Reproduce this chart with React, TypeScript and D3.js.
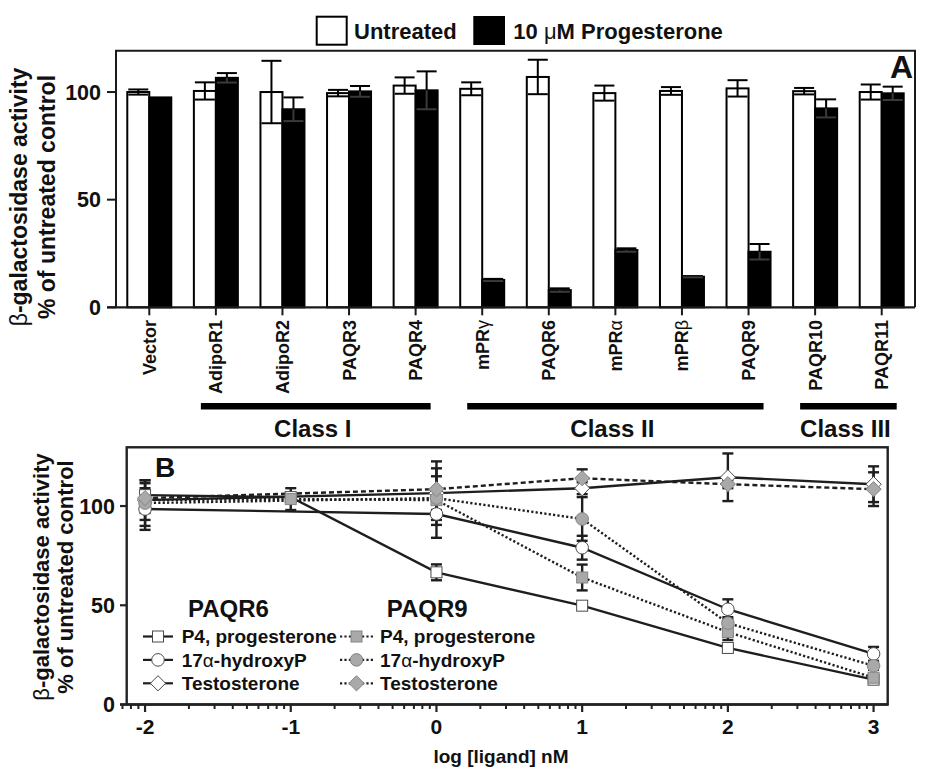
import React from "react";
import * as d3 from "d3";

// ---------- Panel A data ----------
const categories = ["Vector", "AdipoR1", "AdipoR2", "PAQR3", "PAQR4", "mPRγ", "PAQR6", "mPRα", "mPRβ", "PAQR9", "PAQR10", "PAQR11"];
const untreated = [100, 100.5, 100, 99.5, 103, 101.5, 107, 99.5, 100.5, 101.7, 100.4, 100];
const untreatedErr = [1.2, 4, 14.5, 1.5, 3.8, 3, 8, 3.5, 1.8, 3.8, 1.5, 3.5];
const progesterone = [97.5, 106.6, 92, 100.3, 100.8, 12.7, 8, 26.6, 14.2, 25.8, 92.4, 99.4];
const progesteroneErr = [0, 2.2, 5.5, 2.5, 8.8, 0.5, 0.8, 0.8, 0.3, 3.6, 4.2, 3.1];
const yTicksA = [0, 50, 100];
const classNames = ["Class I", "Class II", "Class III"];
const classFrom = ["AdipoR1", "mPRγ", "PAQR10"];
const classTo = ["PAQR4", "PAQR9", "PAQR11"];

// ---------- Panel B data ----------
const logDose = [-2, -1, 0, 1, 2, 3];
const xTicksB = [-2, -1, 0, 1, 2, 3];
const yTicksB = [0, 50, 100];
const p6_P4 = [105.5, 104.5, 66.6, 49.8, 28.5, 12.5];
const p6_P4Err = [0, 0, 4, 1, 1, 1];
const p6_OHP = [98.5, null, 96, 79, 48, 25.5];
const p6_OHPErr = [10.5, null, 12, 6, 5, 3.5];
const p6_T = [103, null, 106.5, 109, 114.5, 111];
const p6_TErr = [10, null, 16, 3, 12, 9];
const p9_P4 = [103, 103.5, 103, 64, 36.5, 13.5];
const p9_P4Err = [0, 5.5, 0, 6.5, 4, 1];
const p9_OHP = [101.5, null, 104, 93.5, 41, 19.5];
const p9_OHPErr = [11.5, null, 11, 11, 3, 2];
const p9_T = [104, null, 108.5, 114, 111, 108.5];
const p9_TErr = [7.5, null, 10.5, 4.5, 2, 8.5];

type Series = {
  vals: (number | null)[];
  errs: (number | null)[];
  shape: "square" | "circle" | "diamond";
  grey: boolean;
  dash: string | null;
};

const seriesB: Series[] = [
  { vals: p6_P4, errs: p6_P4Err, shape: "square", grey: false, dash: null },
  { vals: p6_OHP, errs: p6_OHPErr, shape: "circle", grey: false, dash: null },
  { vals: p6_T, errs: p6_TErr, shape: "diamond", grey: false, dash: null },
  { vals: p9_P4, errs: p9_P4Err, shape: "square", grey: true, dash: "2.2,2.2" },
  { vals: p9_OHP, errs: p9_OHPErr, shape: "circle", grey: true, dash: "2.2,2.2" },
  { vals: p9_T, errs: p9_TErr, shape: "diamond", grey: true, dash: "5,3" },
];

const legendLabels6 = ["P4, progesterone", "17α-hydroxyP", "Testosterone"];

const FONT = "'Liberation Sans', Arial, Helvetica, sans-serif";

function Marker({ shape, grey, x, y }: { shape: string; grey: boolean; x: number; y: number }) {
  const fill = grey ? "#a9a9a9" : "#ffffff";
  const stroke = grey ? "#858585" : "#4a4a4a";
  if (shape === "square") {
    return <rect x={x - 5.5} y={y - 5.5} width={11} height={11} fill={fill} stroke={stroke} strokeWidth={1} />;
  }
  if (shape === "circle") {
    return <circle cx={x} cy={y} r={6.3} fill={fill} stroke={stroke} strokeWidth={1} />;
  }
  const s = 7.6;
  return <path d={`M${x},${y - s}L${x + s},${y}L${x},${y + s}L${x - s},${y}Z`} fill={fill} stroke={stroke} strokeWidth={1} />;
}

function greekLabel(label: string) {
  const m = label.match(/^(.*?)([α-ωΑ-Ω])(.*)$/);
  if (!m) return label;
  return (
    <>
      {m[1]}
      <tspan fontWeight="normal">{m[2]}</tspan>
      {m[3]}
    </>
  );
}

export default function App() {
  const W = 940, H = 772;

  // Panel A
  const ax0 = 116, ax1 = 915, ay0 = 50.7, ay1 = 307.3;
  const xA = d3.scaleBand<string>().domain(categories).range([ax0, ax1]).paddingInner(0).paddingOuter(0);
  const yA = d3.scaleLinear().domain([0, 119.2]).range([ay1, ay0]);
  const bw = 22;
  const cA = (c: string) => (xA(c) as number) + xA.bandwidth() / 2;

  // Panel B
  const bx0 = 126.7, bx1 = 887.7, by0 = 447.3, by1 = 704.5;
  const xB = d3.scaleLinear().domain([-2.126, 3.097]).range([bx0, bx1]);
  const yB = d3.scaleLinear().domain([0, 129.6]).range([by1, by0]);
  const axisLeftB = 120;

  const minorB: number[] = [];
  for (let d = -3; d <= 3; d++) {
    for (let k = 2; k <= 9; k++) {
      const v = d + Math.log10(k);
      const px = xB(v);
      if (px >= axisLeftB && px <= bx1) minorB.push(v);
    }
  }

  const lineGen = d3
    .line<[number, number]>()
    .x((d) => xB(d[0]))
    .y((d) => yB(d[1]));

  const errBarA = (cx: number, v: number, e: number, dark: boolean, key: string) => {
    if (!e) return null;
    const yt = yA(v + e), yb = yA(v - e), yv = yA(v);
    const inner = dark ? "#3a3a3a" : "#000";
    return (
      <g key={key}>
        <line x1={cx} x2={cx} y1={yt} y2={yv} stroke="#000" strokeWidth={2} />
        <line x1={cx - 10} x2={cx + 10} y1={yt} y2={yt} stroke="#000" strokeWidth={2} />
        <line x1={cx} x2={cx} y1={yv} y2={yb} stroke={inner} strokeWidth={2} />
        <line x1={cx - 10} x2={cx + 10} y1={yb} y2={yb} stroke={inner} strokeWidth={2} />
      </g>
    );
  };

  return (
    <svg width={W} height={H} style={{ position: "absolute", left: 0, top: 0, display: "block" }} fontFamily={FONT}>
      <rect x={0} y={0} width={W} height={H} fill="#fff" />

      {/* ---------- Top legend ---------- */}
      <rect x={316.7} y={16.7} width={30} height={28} fill="#fff" stroke="#000" strokeWidth={2} />
      <text x={354} y={39.3} fontSize={22} fontWeight="bold" fill="#111">Untreated</text>
      <rect x={473.3} y={16} width={31.7} height={29} fill="#000" />
      <text x={513.3} y={39.3} fontSize={22} fontWeight="bold" fill="#111">
        10 <tspan fontWeight="normal">μ</tspan>M Progesterone
      </text>

      {/* ---------- Panel A ---------- */}
      {categories.map((c, i) => {
        const cx = cA(c);
        return (
          <g key={c}>
            <rect x={cx - bw} y={yA(untreated[i])} width={bw} height={ay1 - yA(untreated[i])} fill="#fff" stroke="#000" strokeWidth={2} />
            <rect x={cx} y={yA(progesterone[i])} width={bw} height={ay1 - yA(progesterone[i])} fill="#000" stroke="#000" strokeWidth={2} />
            {errBarA(cx - bw / 2, untreated[i], untreatedErr[i], false, "u" + i)}
            {errBarA(cx + bw / 2, progesterone[i], progesteroneErr[i], true, "p" + i)}
          </g>
        );
      })}
      {/* frame */}
      <path d={`M${ax0},${ay1}V${ay0}H${ax1}V${ay1}`} fill="none" stroke="#1a1a1a" strokeWidth={2} />
      <line x1={107} x2={ax1} y1={ay1} y2={ay1} stroke="#1a1a1a" strokeWidth={2.2} />
      {yTicksA.map((t) => (
        <g key={t}>
          <line x1={107} x2={ax0} y1={yA(t)} y2={yA(t)} stroke="#1a1a1a" strokeWidth={2} />
          <text x={101} y={yA(t)} dy="0.36em" textAnchor="end" fontSize={21.5} fontWeight="bold" fill="#111">{t}</text>
        </g>
      ))}
      {categories.map((c) => {
        const cx = cA(c);
        return (
          <g key={"xl" + c}>
            <line x1={cx} x2={cx} y1={ay1} y2={ay1 + 8} stroke="#1a1a1a" strokeWidth={2} />
            <text transform={`translate(${cx + 6.5},320) rotate(-90)`} textAnchor="end" fontSize={18} fontWeight="bold" fill="#111">
              {greekLabel(c)}
            </text>
          </g>
        );
      })}
      <text x={913} y={78} textAnchor="end" fontSize={32} fontWeight="bold" fill="#111">A</text>
      <text transform="translate(27,197) rotate(-90)" textAnchor="middle" fontSize={23} fontWeight="bold" fill="#111">
        <tspan fontWeight="normal">β</tspan>-galactosidase activity
      </text>
      <text transform="translate(55,197) rotate(-90)" textAnchor="middle" fontSize={23} fontWeight="bold" fill="#111">
        % of untreated control
      </text>

      {/* class bars */}
      {classNames.map((n, i) => {
        const x1 = cA(classFrom[i]) - 15;
        const x2 = cA(classTo[i]) + 15;
        return (
          <g key={n}>
            <rect x={x1} y={403} width={x2 - x1} height={6.5} fill="#000" />
            <text x={(x1 + x2) / 2 - 3} y={437} textAnchor="middle" fontSize={24} fontWeight="bold" fill="#111">{n}</text>
          </g>
        );
      })}

      {/* ---------- Panel B ---------- */}
      <rect x={bx0} y={by0} width={bx1 - bx0} height={by1 - by0} fill="none" stroke="#222" strokeWidth={2.4} />
      <line x1={axisLeftB} x2={bx1} y1={by1} y2={by1} stroke="#222" strokeWidth={2.4} />
      {yTicksB.map((t) => (
        <g key={"yb" + t}>
          <line x1={axisLeftB} x2={bx0} y1={yB(t)} y2={yB(t)} stroke="#222" strokeWidth={2.2} />
          <text x={115} y={yB(t)} dy="0.36em" textAnchor="end" fontSize={21.5} fontWeight="bold" fill="#111">{t}</text>
        </g>
      ))}
      {minorB.map((v, i) => (
        <line key={"mn" + i} x1={xB(v)} x2={xB(v)} y1={by1} y2={by1 + 4.5} stroke="#222" strokeWidth={2} />
      ))}
      {xTicksB.map((t) => (
        <g key={"xb" + t}>
          <line x1={xB(t)} x2={xB(t)} y1={by1} y2={by1 + 7.5} stroke="#222" strokeWidth={2.2} />
          <text x={xB(t)} y={733.5} textAnchor="middle" fontSize={21} fontWeight="bold" fill="#111">{t}</text>
        </g>
      ))}
      <text x={501} y={763} textAnchor="middle" fontSize={19} fontWeight="bold" fill="#111">log [ligand] nM</text>
      <text transform="translate(49,577) rotate(-90)" textAnchor="middle" fontSize={22} fontWeight="bold" fill="#111">
        <tspan fontWeight="normal">β</tspan>-galactosidase activity
      </text>
      <text transform="translate(73,577) rotate(-90)" textAnchor="middle" fontSize={22} fontWeight="bold" fill="#111">
        % of untreated control
      </text>
      <text x={155} y={477} fontSize={28} fontWeight="bold" fill="#111">B</text>

      {/* lines */}
      {seriesB.map((s, si) => {
        const pts: [number, number][] = [];
        s.vals.forEach((v, i) => {
          if (v !== null) pts.push([logDose[i], v]);
        });
        return (
          <path key={"ln" + si} d={lineGen(pts) || ""} fill="none" stroke="#1e1e1e" strokeWidth={2.4} strokeDasharray={s.dash || undefined} />
        );
      })}
      {/* error bars */}
      {seriesB.map((s, si) =>
        s.vals.map((v, i) => {
          const e = s.errs[i];
          if (v === null || !e) return null;
          const x = xB(logDose[i]);
          const yt = yB(v + e), yb = yB(v - e);
          return (
            <g key={"eb" + si + "-" + i}>
              <line x1={x} x2={x} y1={yt} y2={yb} stroke="#1e1e1e" strokeWidth={2.4} />
              <line x1={x - 5.5} x2={x + 5.5} y1={yt} y2={yt} stroke="#1e1e1e" strokeWidth={2.4} />
              <line x1={x - 5.5} x2={x + 5.5} y1={yb} y2={yb} stroke="#1e1e1e" strokeWidth={2.4} />
            </g>
          );
        })
      )}
      {/* markers */}
      {seriesB.map((s, si) =>
        s.vals.map((v, i) =>
          v === null ? null : <Marker key={"mk" + si + "-" + i} shape={s.shape} grey={s.grey} x={xB(logDose[i])} y={yB(v)} />
        )
      )}

      {/* legend B */}
      <text x={188} y={617} fontSize={24} fontWeight="bold" fill="#111">PAQR6</text>
      <text x={386.7} y={617} fontSize={24} fontWeight="bold" fill="#111">PAQR9</text>
      {seriesB.map((s, si) => {
        const col = si < 3 ? 0 : 1;
        const row = si % 3;
        const by = 643.3 + row * 23.4;
        const cy = by - 6.8;
        const lx0 = col === 0 ? 143 : 340;
        const lx1 = col === 0 ? 173 : 373;
        const mx = (lx0 + lx1) / 2;
        const tx = col === 0 ? 181.7 : 380;
        return (
          <g key={"lg" + si}>
            <line x1={lx0} x2={lx1} y1={cy} y2={cy} stroke="#1e1e1e" strokeWidth={2.2} strokeDasharray={col === 1 ? "2.2,2.2" : undefined} />
            <Marker shape={s.shape} grey={s.grey} x={mx} y={cy} />
            <text x={tx} y={by} fontSize={19} fontWeight="bold" fill="#111">{greekLabel(legendLabels6[row])}</text>
          </g>
        );
      })}
    </svg>
  );
}
